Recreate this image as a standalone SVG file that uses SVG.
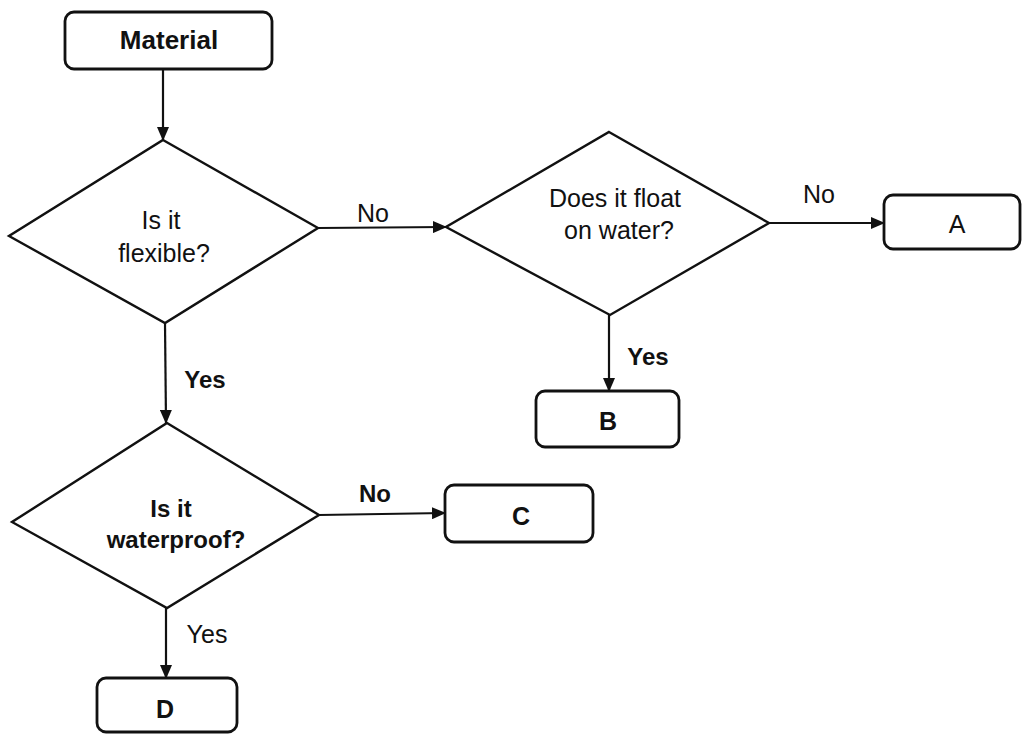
<svg xmlns="http://www.w3.org/2000/svg" width="1024" height="735" viewBox="0 0 1024 735">
<defs>
<style>
.box{fill:#fff;stroke:#111;stroke-width:2.8}
.dia{fill:#fff;stroke:#111;stroke-width:2.4;stroke-linejoin:miter}
.ln{fill:none;stroke:#111;stroke-width:2.2}
text{font-family:"Liberation Sans",Arial,sans-serif;font-size:25px;fill:#111;text-anchor:middle}
.b{font-weight:bold;font-size:24px}
</style>
<marker id="ah" markerUnits="userSpaceOnUse" markerWidth="14" markerHeight="12" refX="13" refY="6" orient="auto">
<path d="M0,0 L14,6 L0,12 z" fill="#111"/>
</marker>
</defs>
<rect width="1024" height="735" fill="#fff"/>
<g id="connectors">
<path class="ln" d="M163,70 L163,140" marker-end="url(#ah)"/>
<path class="ln" d="M318,228 L446,227" marker-end="url(#ah)"/>
<path class="ln" d="M769,223 L884,223" marker-end="url(#ah)"/>
<path class="ln" d="M609,315 L609,391" marker-end="url(#ah)"/>
<path class="ln" d="M165,323 L166,423" marker-end="url(#ah)"/>
<path class="ln" d="M319,515 L445,513" marker-end="url(#ah)"/>
<path class="ln" d="M166,608 L166,678" marker-end="url(#ah)"/>
<text x="373" y="222">No</text>
<text x="819" y="203">No</text>
<text x="648" y="365" class="b">Yes</text>
<text x="205" y="388" class="b">Yes</text>
<text x="375" y="502" class="b">No</text>
<text x="207" y="643">Yes</text>
</g>
<g id="material">
<rect class="box" x="65" y="12" width="207" height="57" rx="9"/>
<text x="169" y="49" class="b" style="font-size:26px">Material</text>
</g>
<g id="flexible">
<polygon class="dia" points="163,140 318,228 165,323 9,236"/>
<text x="161" y="229">Is it</text>
<text x="164" y="262">flexible?</text>
</g>
<g id="float">
<polygon class="dia" points="609,132 769,223 610,315 446,227"/>
<text x="615" y="207">Does it float</text>
<text x="619" y="239">on water?</text>
</g>
<g id="A">
<rect class="box" x="884" y="195" width="136" height="54" rx="9"/>
<text x="957" y="233">A</text>
</g>
<g id="B">
<rect class="box" x="536" y="391" width="143" height="56" rx="9"/>
<text x="608" y="430" class="b" style="font-size:25px">B</text>
</g>
<g id="waterproof">
<polygon class="dia" points="167,423 319,515 167,608 12,522"/>
<text x="171" y="517" class="b">Is it</text>
<text x="176" y="548" class="b">waterproof?</text>
</g>
<g id="C">
<rect class="box" x="445" y="485" width="148" height="57" rx="9"/>
<text x="521" y="525" class="b" style="font-size:25px">C</text>
</g>
<g id="D">
<rect class="box" x="97" y="678" width="140" height="54" rx="9"/>
<text x="165" y="718" class="b" style="font-size:25px">D</text>
</g>
</svg>
